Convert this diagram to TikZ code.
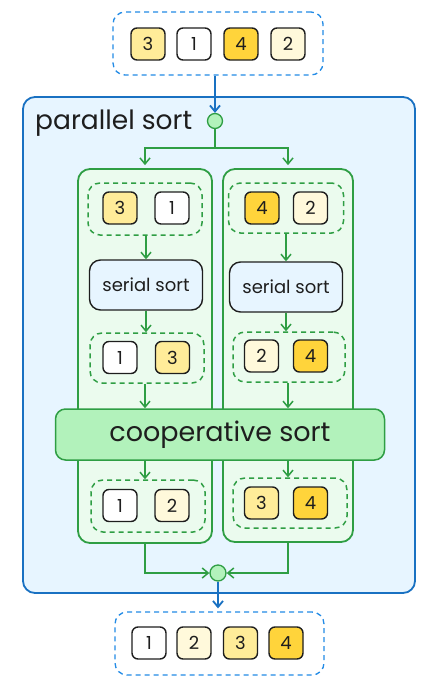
\documentclass[tikz,border=0pt]{standalone}
\usepackage{fontspec}
\setmainfont{Poppins}
\usetikzlibrary{arrows.meta,calc}
\definecolor{bstroke}{HTML}{1971C2}
\definecolor{bdash}{HTML}{228BE6}
\definecolor{bfill}{HTML}{E7F5FF}
\definecolor{gstroke}{HTML}{2F9E44}
\definecolor{gfill}{HTML}{EBFBEE}
\definecolor{gstrong}{HTML}{B2F2BB}
\definecolor{yone}{HTML}{FFFFFF}
\definecolor{ytwo}{HTML}{FFF9DB}
\definecolor{ythree}{HTML}{FFEC99}
\definecolor{yfour}{HTML}{FFD43B}
\definecolor{ink}{HTML}{1E1E1E}
\tikzset{
  sq/.style={draw=ink, line width=1.4pt, rounded corners=6pt, minimum width=34pt, minimum height=32pt, inner sep=0pt, font=\fontsize{18}{18}\selectfont, text=ink},
  bluegroup/.style={draw=bdash, line width=1.3pt, dash pattern=on 5pt off 4pt, rounded corners=12pt, inner sep=0pt},
  greengroup/.style={draw=gstroke, line width=1.5pt, dash pattern=on 5pt off 4pt, rounded corners=12pt, inner sep=0pt},
  column/.style={draw=gstroke, fill=gfill, line width=1.8pt, rounded corners=12pt, inner sep=0pt},
  serialbox/.style={draw=ink, fill=bfill, line width=1.4pt, rounded corners=11pt, minimum width=113pt, minimum height=50pt, inner sep=0pt, font=\fontsize{18}{18}\selectfont, text=ink},
  coopbox/.style={draw=gstroke, fill=gstrong, line width=1.5pt, rounded corners=10pt, minimum width=329pt, minimum height=51pt, inner sep=0pt, font=\fontsize{27}{27}\selectfont, text=ink},
  joint/.style={circle, draw=gstroke, fill=gstrong, line width=1.3pt, minimum size=15pt, inner sep=0pt},
  garrow/.style={draw=gstroke, line width=1.5pt, -{Straight Barb[length=6pt,width=10pt]}},
  barrow/.style={draw=bstroke, line width=1.8pt, -{Straight Barb[length=6pt,width=10pt]}},
}
\begin{document}
\begin{tikzpicture}[x=1pt,y=-1pt]
\useasboundingbox (0,0) rectangle (440,691);
\fill[white] (0,0) rectangle (440,691);

% top input
\node[bluegroup, minimum width=210pt, minimum height=63pt] (topbox) at (218,43.5) {};
\node[sq, fill=ythree] (t3) at (148,44) {3};
\node[sq, fill=yone] (t1) at (194,44) {1};
\node[sq, fill=yfour] (t4) at (241,44) {4};
\node[sq, fill=ytwo] (t2) at (288,44) {2};

% container
\node[draw=bstroke, fill=bfill, line width=1.8pt, rounded corners=12pt, minimum width=392pt, minimum height=496pt, inner sep=0pt] (container) at (219,345) {};
\node[anchor=west, font=\fontsize{26.5}{26.5}\selectfont, text=ink, inner sep=0pt] (plabel) at (35,123) {parallel sort};

\node[joint] (splitc) at (215,121) {};
\draw[barrow] (topbox.south -| splitc) -- (splitc.north);

% columns
\node[column, minimum width=134pt, minimum height=374pt] (colL) at (145,356) {};
\node[column, minimum width=130pt, minimum height=373pt] (colR) at (288,355.5) {};

\coordinate (bj) at (215,148);
\draw[garrow] (splitc.south) -- (bj) -| ($(colL.north)+(0,-3)$);
\draw[garrow] (bj) -| ($(colR.north)+(0,-3)$);

% left column
\node[greengroup, minimum width=114pt, minimum height=52pt] (dL1) at (145,209) {};
\node[sq, fill=ythree] (l13) at (120,208) {3};
\node[sq, fill=yone] (l11) at (172,208) {1};
\node[serialbox] (ssL) at (146,285) {serial sort};
\node[greengroup, minimum width=114pt, minimum height=50pt] (dL2) at (147,358) {};
\node[sq, fill=yone] (l21) at (120,357.5) {1};
\node[sq, fill=ythree] (l23) at (172.5,357.5) {3};
\draw[garrow] (dL1.south -| ssL) -- (ssL.north);
\draw[garrow] (ssL.south) -- (ssL.south |- dL2.north);

% right column
\node[greengroup, minimum width=115pt, minimum height=50pt] (dR1) at (286,208) {};
\node[sq, fill=yfour] (r14) at (262,208) {4};
\node[sq, fill=ytwo] (r12) at (310.5,208) {2};
\node[serialbox] (ssR) at (286,287) {serial sort};
\node[greengroup, minimum width=112pt, minimum height=50pt] (dR2) at (289,357) {};
\node[sq, fill=ytwo] (r22) at (261.5,356) {2};
\node[sq, fill=yfour] (r24) at (310.5,356) {4};
\draw[garrow] (dR1.south -| ssR) -- (ssR.north);
\draw[garrow] (ssR.south) -- (ssR.south |- dR2.north);

% cooperative
\node[coopbox] (coop) at (220,434.5) {cooperative sort};
\draw[garrow] (dL2.south -| colL) -- (coop.north -| colL);
\draw[garrow] (dR2.south -| colR) -- (coop.north -| colR);

\node[greengroup, minimum width=114pt, minimum height=52pt] (dL3) at (148,506) {};
\node[sq, fill=yone] (l31) at (120,505.5) {1};
\node[sq, fill=ytwo] (l32) at (172,505.5) {2};
\node[greengroup, minimum width=114pt, minimum height=50pt] (dR3) at (290,503) {};
\node[sq, fill=ythree] (r33) at (261.5,503) {3};
\node[sq, fill=yfour] (r34) at (310.5,503) {4};
\draw[garrow] (coop.south -| colL) -- (dL3.north -| colL);
\draw[garrow] (coop.south -| colR) -- (dR3.north -| colR);

% merge
\node[joint, minimum size=16pt] (mergec) at (218,573) {};
\draw[garrow] (colL.south) |- (mergec.west);
\draw[garrow] (colR.south) |- (mergec.east);

% output
\node[bluegroup, minimum width=209pt, minimum height=63pt] (botbox) at (219.5,643.5) {};
\node[sq, fill=yone] (b1) at (149,643) {1};
\node[sq, fill=ytwo] (b2) at (194,643) {2};
\node[sq, fill=ythree] (b3) at (240.5,643) {3};
\node[sq, fill=yfour] (b4) at (286,643) {4};
\draw[barrow, shorten >=3pt] (mergec.south) -- (mergec.south |- botbox.north);
\end{tikzpicture}
\end{document}
